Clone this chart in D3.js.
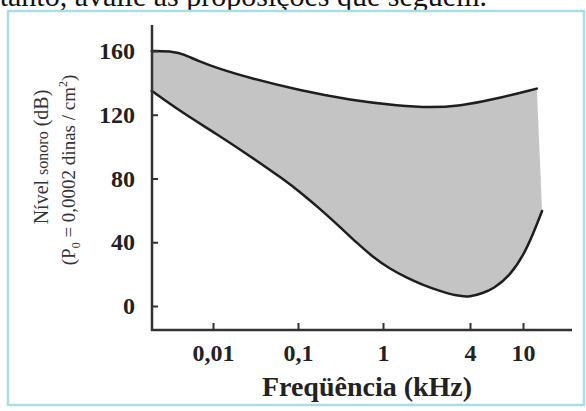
<!DOCTYPE html>
<html>
<head>
<meta charset="utf-8">
<script src="https://cdn.jsdelivr.net/npm/d3@7"></script>
<style>
  body { margin: 0; background: #fff; }
  svg { display: block; }
  .tick text { font-family: 'Liberation Serif', 'Times New Roman', serif; font-weight: bold; font-size: 24px; fill: #222; }
  .tick line { stroke: #333; stroke-width: 2; }
</style>
</head>
<body>
<svg width="586" height="411"></svg>
<script>
// frequency (kHz) and sound level (dB)
const upperFreq = [0.0019, 0.0036, 0.0044, 0.0070, 0.0111, 0.0272, 0.106, 0.41, 1.31, 2.11, 3.41, 5.96, 12.7];
const upperDb = [160, 159.6, 158.1, 153.4, 149.3, 143, 135.2, 129.2, 125.5, 124.5, 125.5, 129.5, 136.4];
const lowerFreq = [0.0019, 0.0044, 0.0111, 0.0272, 0.0667, 0.106, 0.182, 0.312, 0.494, 0.762,
  1.12, 1.47, 1.89, 2.48, 3.25, 4.0, 5.01, 5.96, 7.98, 10.7, 13.9];
const lowerDb = [135, 121.1, 107.9, 94.1, 79.7, 71.5, 60.9, 49.6, 39.5, 30.7,
  23.2, 17.6, 13.2, 9.4, 6.3, 5.6, 8.2, 10.7, 18.8, 35.1, 59.6];
const xTicks = [0.01, 0.1, 1, 4, 10];
const xTickLabels = ['0,01', '0,1', '1', '4', '10'];
const yTicks = [0, 40, 80, 120, 160];

const serif = "'Liberation Serif', 'Times New Roman', serif";
const svg = d3.select('svg');

// page text cut by the top edge and the light blue frame
svg.append('text')
    .attr('x', 487).attr('y', 6)
    .attr('text-anchor', 'end')
    .style('font-family', serif)
    .style('font-size', '30px')
    .attr('fill', '#111')
    .text('Portanto, avalie as proposições que seguem.');

svg.append('rect')
    .attr('x', 8).attr('y', 11)
    .attr('width', 576).attr('height', 394)
    .attr('fill', '#fff')
    .attr('stroke', '#a8dfe6')
    .attr('stroke-width', 2.5);

// the printed axis is not a true log scale, so map ticks piece by piece
const x = d3.scaleLinear()
    .domain(xTicks.map(Math.log10))
    .range([213, 298, 383, 470, 523]);
const y = d3.scaleLinear().domain([0, 160]).range([306, 51]);

const line = d3.line()
    .x((d) => x(Math.log10(d[0])))
    .y((d) => y(d[1]))
    .curve(d3.curveBasis);

const upper = upperFreq.map((f, i) => [f, upperDb[i]]);
const lower = lowerFreq.map((f, i) => [f, lowerDb[i]]);

const upPath = line(upper);
const backPath = line(lower.slice().reverse());
svg.append('path')
    .attr('d', upPath + 'L' + backPath.slice(1) + 'Z')
    .attr('fill', '#c4c4c4');

[upper, lower].forEach((pts) => {
  svg.append('path')
      .attr('d', line(pts))
      .attr('fill', 'none')
      .attr('stroke', '#1e1e1e')
      .attr('stroke-width', 2.5)
      .attr('stroke-linecap', 'round');
});

// axes
const yAxis = svg.append('g')
    .attr('transform', 'translate(152,0)')
    .call(d3.axisLeft(y).tickValues(yTicks).tickSize(-6).tickPadding(17));
yAxis.select('.domain').remove();

const xAxis = svg.append('g')
    .attr('transform', 'translate(0,330)')
    .call(d3.axisBottom(x).tickValues(xTicks.map(Math.log10))
        .tickSize(-7).tickPadding(14)
        .tickFormat((d, i) => xTickLabels[i]));
xAxis.select('.domain').remove();

svg.append('line')
    .attr('x1', 152).attr('x2', 152).attr('y1', 25).attr('y2', 331)
    .attr('stroke', '#333').attr('stroke-width', 2.5);
svg.append('line')
    .attr('x1', 151).attr('x2', 572).attr('y1', 330).attr('y2', 330)
    .attr('stroke', '#333').attr('stroke-width', 2.5);

// titles
svg.append('text')
    .attr('x', 367).attr('y', 396)
    .attr('text-anchor', 'middle')
    .style('font-family', serif)
    .style('font-weight', 'bold')
    .style('font-size', '28px')
    .attr('fill', '#222')
    .text('Freqüência (kHz)');

const t1 = svg.append('text')
    .attr('transform', 'translate(48,157) rotate(-90)')
    .attr('text-anchor', 'middle')
    .style('font-family', serif)
    .style('font-size', '20px')
    .attr('fill', '#333');
t1.append('tspan').text('Nível ');
t1.append('tspan').style('font-size', '16px').text('sonoro');
t1.append('tspan').text(' (dB)');

const t2 = svg.append('text')
    .attr('transform', 'translate(75,170) rotate(-90)')
    .attr('text-anchor', 'middle')
    .style('font-family', serif)
    .style('font-size', '19px')
    .attr('fill', '#333');
t2.append('tspan').text('(P');
t2.append('tspan').attr('dy', 5).style('font-size', '12px').text('0');
t2.append('tspan').attr('dy', -5).text(' = 0,0002 dinas / cm');
t2.append('tspan').attr('dy', -8).style('font-size', '12px').text('2');
t2.append('tspan').attr('dy', 8).text(')');
</script>
</body>
</html>
